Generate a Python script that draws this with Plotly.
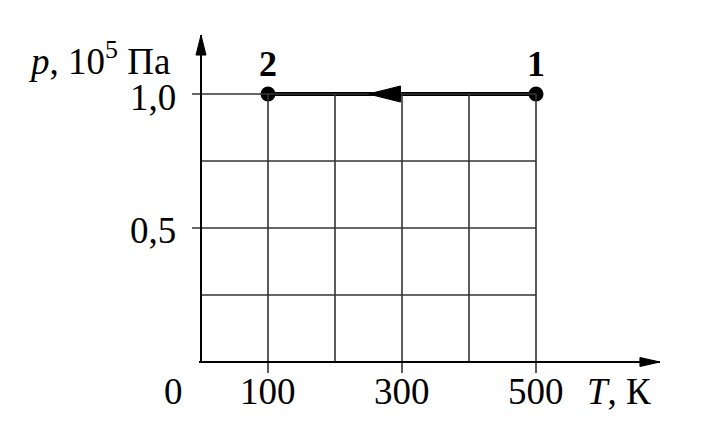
import plotly.graph_objects as go

# ---- data ----
T_ticks = [100, 300, 500]
T_tick_labels = ["100", "300", "500"]
T_grid = [100, 200, 300, 400, 500]
p_ticks = [0.5, 1.0]
p_tick_labels = ["0,5", "1,0"]
p_grid = [0.25, 0.5, 0.75, 1.0]
state_T = [500, 100]
state_p = [1.0, 1.0]
state_labels = ["1", "2"]
arrow_T = 250          # where the direction arrow tip sits on process 1->2
T_axis_max = 685
p_axis_max = 1.22

# ---- pixel scale helpers ----
OFF = 8                 # page body margin
PX_T = 0.67             # px per K
PX_P = 268.0            # px per 1e5 Pa
W, H = 712 - OFF, 443 - OFF
X0, Y0 = 201 - OFF, 362 - OFF   # pixel position of origin inside the figure


def tx(px):   # screen px -> T
    return (px - OFF - X0) / PX_T


def ty(py):   # screen py -> p
    return (Y0 - (py - OFF)) / PX_P


x_range = [-X0 / PX_T, (W - X0) / PX_T]
y_range = [-(H - Y0) / PX_P, Y0 / PX_P]

FONT = "Liberation Serif"
FS = 37
GRID_C = "#333333"

fig = go.Figure()

shapes = []
tick_len_T = 11 / PX_P
for t in T_grid:
    y_bottom = -tick_len_T if t in T_ticks else 0
    shapes.append(dict(type="line", xref="x", yref="y", x0=t, x1=t, y0=y_bottom, y1=max(p_grid),
                       line=dict(color=GRID_C, width=1.6)))
tick_len_p = 9 / PX_T
for p in p_grid:
    x_left = -tick_len_p if p in p_ticks else 0
    shapes.append(dict(type="line", xref="x", yref="y", x0=x_left, x1=max(T_grid), y0=p, y1=p,
                       line=dict(color=GRID_C, width=1.6)))
# axes
shapes.append(dict(type="line", xref="x", yref="y", x0=-2 / PX_T, x1=T_axis_max, y0=0, y1=0,
                   line=dict(color="black", width=2)))
shapes.append(dict(type="line", xref="x", yref="y", x0=0, x1=0, y0=0, y1=p_axis_max,
                   line=dict(color="black", width=2)))
# axis arrowheads (pixel-sized)
shapes.append(dict(type="path", xref="x", yref="y", xsizemode="pixel", ysizemode="pixel",
                   xanchor=T_axis_max, yanchor=0, path="M 0,0 L -20,-4.5 L -20,4.5 Z",
                   fillcolor="black", line=dict(color="black", width=1)))
shapes.append(dict(type="path", xref="x", yref="y", xsizemode="pixel", ysizemode="pixel",
                   xanchor=0, yanchor=p_axis_max, path="M 0,0 L -5,-20 L 5,-20 Z",
                   fillcolor="black", line=dict(color="black", width=1)))
# process direction arrowhead
shapes.append(dict(type="path", xref="x", yref="y", xsizemode="pixel", ysizemode="pixel",
                   xanchor=arrow_T, yanchor=state_p[0], path="M 0,0 L 32,-8 L 32,8 Z",
                   fillcolor="black", line=dict(color="black", width=1)))

# process line and states
fig.add_trace(go.Scatter(x=state_T, y=state_p, mode="lines+markers",
                         line=dict(color="black", width=4),
                         marker=dict(color="black", size=15),
                         hoverinfo="skip", showlegend=False))

ann = []
for t, lab in zip(T_ticks, T_tick_labels):
    ann.append(dict(x=t, y=ty(391), text=lab, xanchor="center", yanchor="middle"))
ann.append(dict(x=tx(173), y=ty(391), text="0", xanchor="center", yanchor="middle"))
ann.append(dict(x=tx(585), y=ty(391), text="<i>T</i>, К", xanchor="left", yanchor="middle"))
ann.append(dict(x=tx(178), y=ty(97), text=p_tick_labels[1], xanchor="right", yanchor="middle"))
ann.append(dict(x=tx(178), y=ty(230), text=p_tick_labels[0], xanchor="right", yanchor="middle"))
ann.append(dict(x=tx(26), y=ty(58), text="<i>p</i>, 10<sup>5</sup> Па", xanchor="left", yanchor="middle"))
for a in ann:
    a.update(font=dict(family=FONT, size=FS, color="black"))
for t, p, lab in zip(state_T, state_p, state_labels):
    ann.append(dict(x=t, y=p, yshift=PX_P * (ty(64) - p), text="<b>" + lab + "</b>",
                    xanchor="center", yanchor="middle",
                    font=dict(family=FONT, size=36, color="black")))
for a in ann:
    a.update(xref="x", yref="y", showarrow=False)

fig.update_layout(
    width=W, height=H,
    margin=dict(l=0, r=0, t=0, b=0),
    paper_bgcolor="white", plot_bgcolor="white",
    xaxis=dict(range=x_range, visible=False, fixedrange=True),
    yaxis=dict(range=y_range, visible=False, fixedrange=True),
    shapes=shapes, annotations=ann,
)

fig.write_html("out.html")
